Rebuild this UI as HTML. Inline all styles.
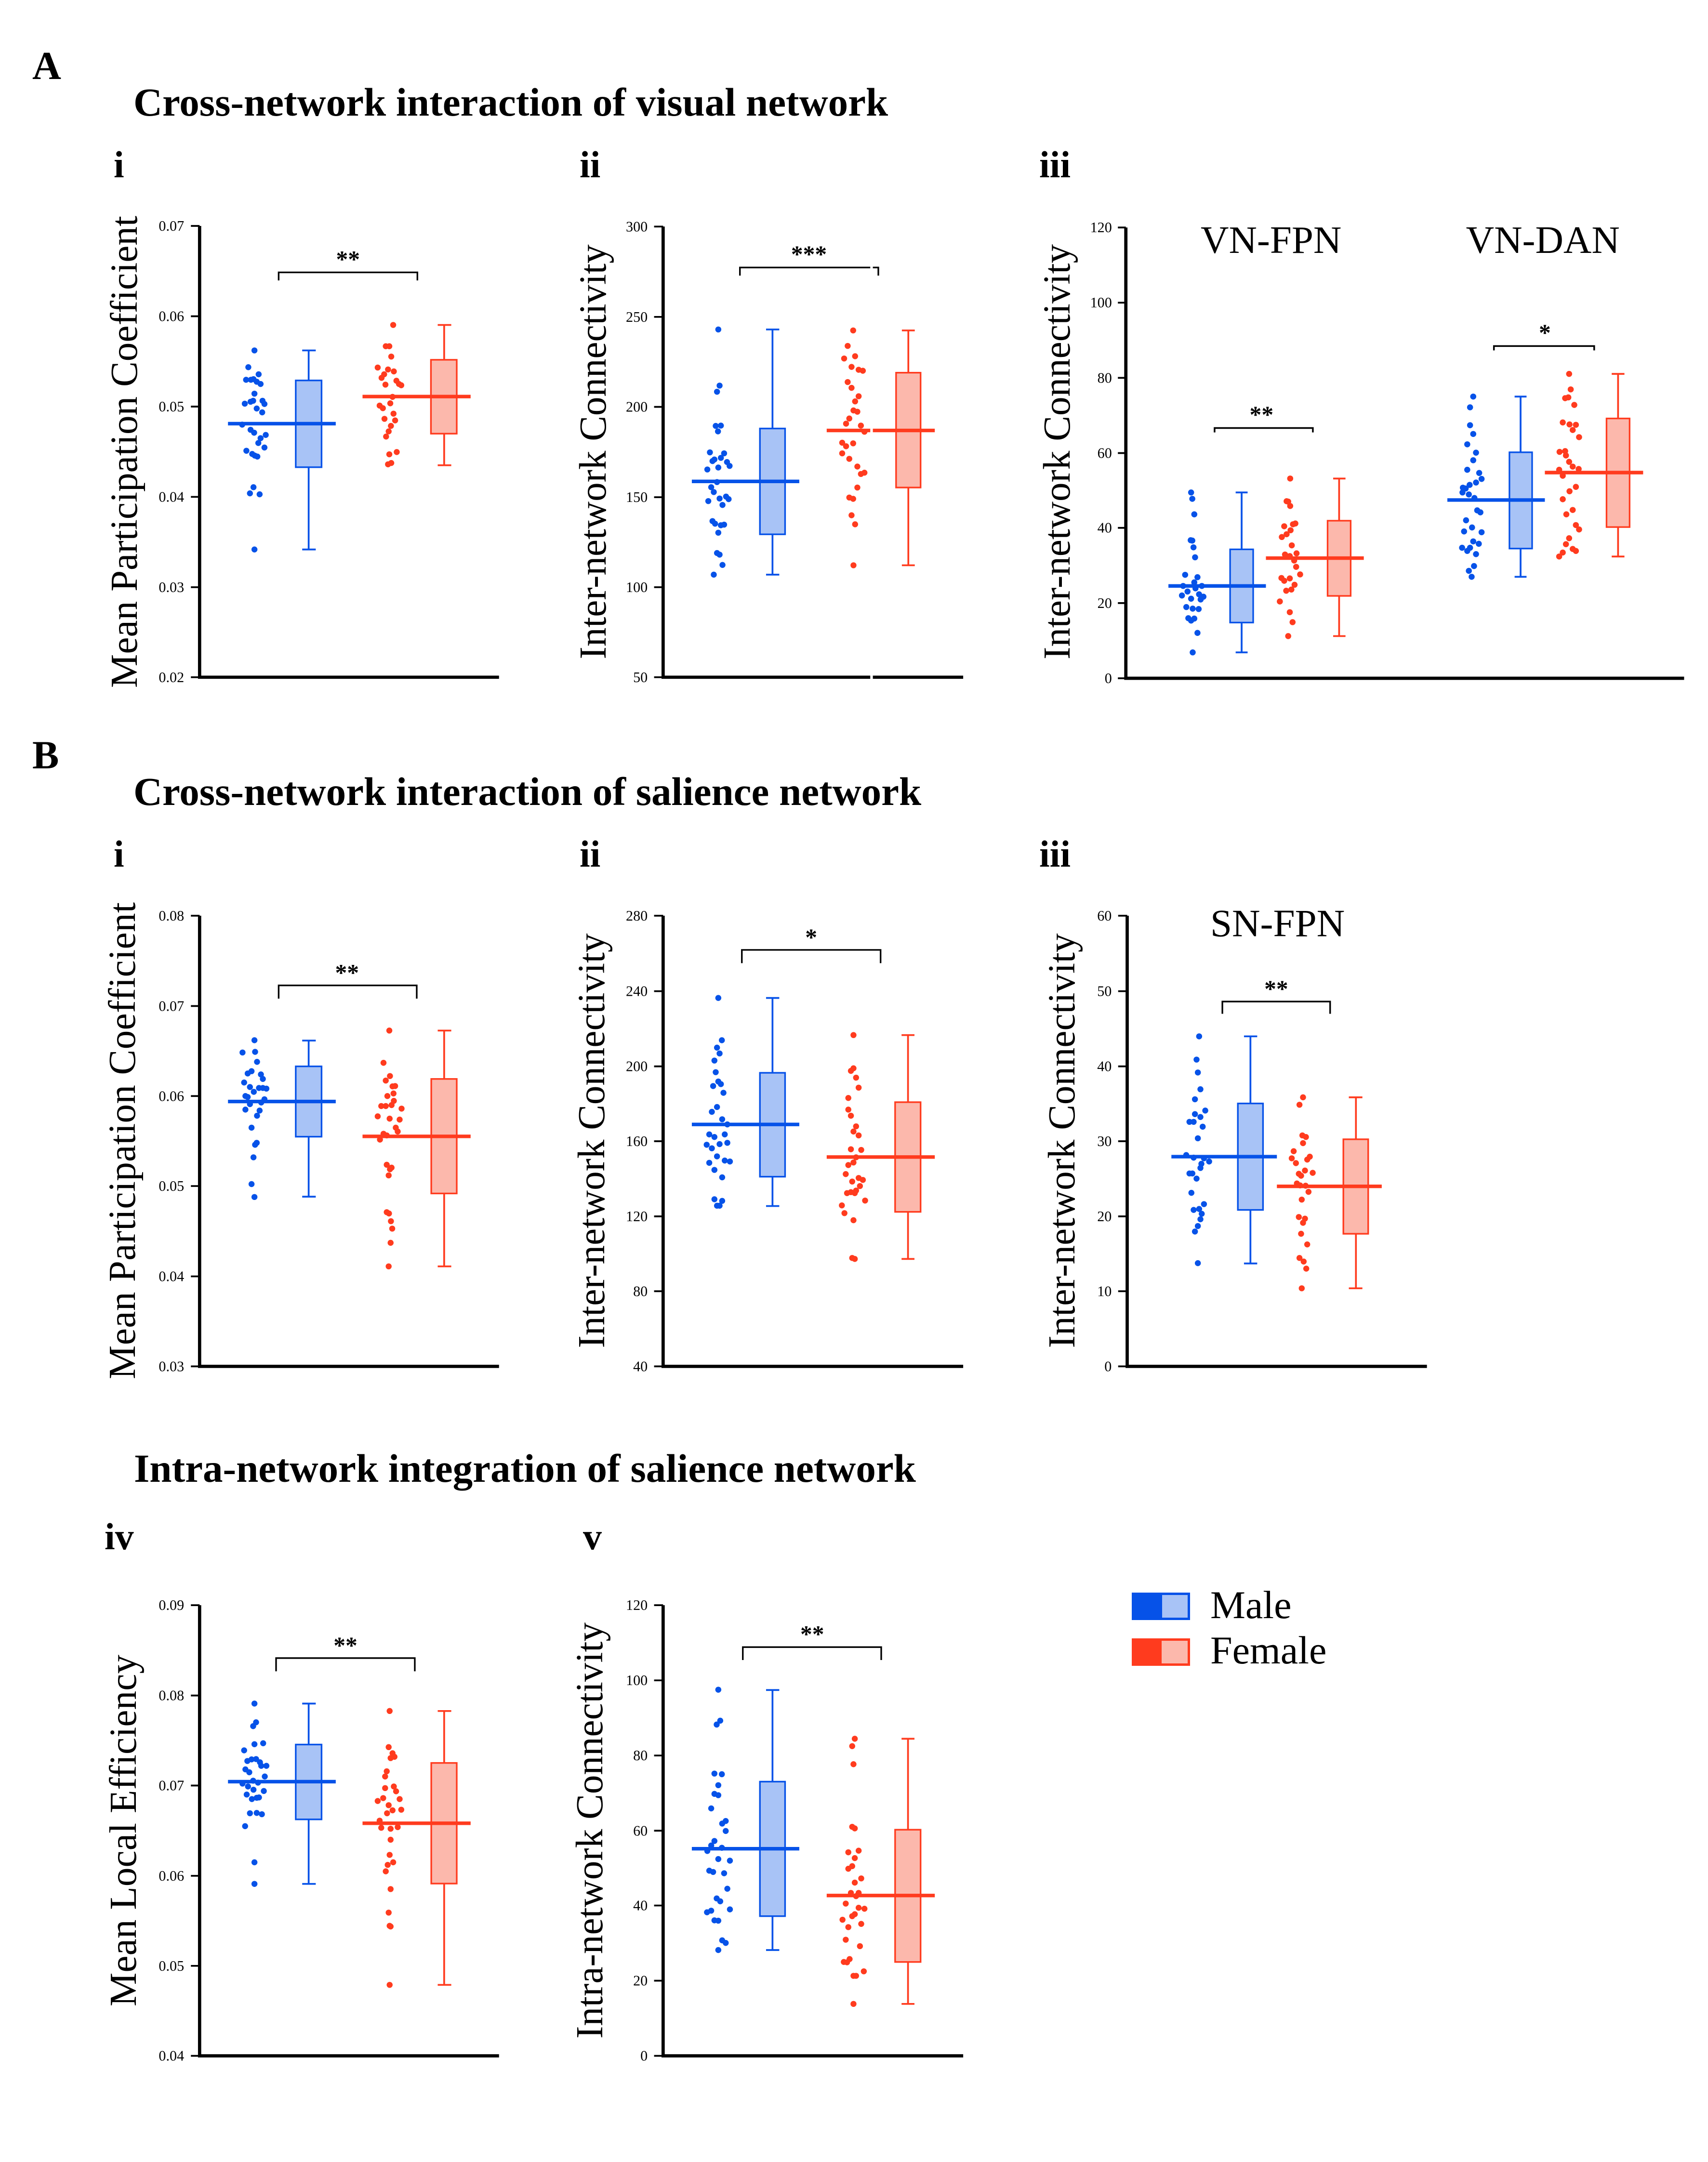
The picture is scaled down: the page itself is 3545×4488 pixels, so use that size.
<!DOCTYPE html>
<html><head><meta charset="utf-8">
<style>
html,body{margin:0;padding:0;background:#fff;}
svg{display:block;}
text{font-family:"Liberation Serif","Times New Roman",serif;fill:#000;}
.ax{stroke:#000;stroke-width:10;fill:none;}
.tk{stroke:#000;stroke-width:5.5;}
.tl{font-size:45px;text-anchor:end;}
.br{stroke:#000;stroke-width:5;fill:none;}
.st{font-size:74px;font-weight:bold;text-anchor:middle;}
.bm{stroke:#0652e8;stroke-width:11;}
.rm{stroke:#ff3b1e;stroke-width:11;}
.bb{fill:#a8c3f6;stroke:#0652e8;stroke-width:5;}
.rb{fill:#fcb8ac;stroke:#ff3b1e;stroke-width:5;}
.bw{stroke:#0652e8;stroke-width:5.5;fill:none;}
.rw{stroke:#ff3b1e;stroke-width:5.5;fill:none;}
.bd{fill:#0652e8;}
.rd{fill:#ff3b1e;}
.bd circle,.rd circle{r:9.3px;}
.ax3{stroke:#000;stroke-width:8.2;fill:none;}
.tk3{stroke:#000;stroke-width:4.5;}
.tl3{font-size:36.5px;text-anchor:end;}
.br3{stroke:#000;stroke-width:4.2;fill:none;}
.bm3{stroke:#0652e8;stroke-width:9;}
.rm3{stroke:#ff3b1e;stroke-width:9;}
.bb3{fill:#a8c3f6;stroke:#0652e8;stroke-width:4;}
.rb3{fill:#fcb8ac;stroke:#ff3b1e;stroke-width:4;}
.bw3{stroke:#0652e8;stroke-width:4.5;fill:none;}
.rw3{stroke:#ff3b1e;stroke-width:4.5;fill:none;}
.g3 circle{r:7.6px;}
.hd{font-size:83px;font-weight:bold;}
.sub{font-size:78px;font-weight:bold;}
.yl{font-size:79px;text-anchor:middle;}
</style></head>
<body>
<svg width="3545" height="4488" viewBox="0 0 3545 4488" xmlns="http://www.w3.org/2000/svg">
<rect width="3545" height="4488" fill="#fff"/>

<!-- Headers -->
<text class="hd" x="67" y="164">A</text>
<text class="hd" x="277" y="240">Cross-network interaction of visual network</text>
<text class="sub" x="236" y="368">i</text>
<text class="sub" x="1203" y="368">ii</text>
<text class="sub" x="2157" y="368">iii</text>

<text class="hd" x="67" y="1595">B</text>
<text class="hd" x="277" y="1671">Cross-network interaction of salience network</text>
<text class="sub" x="236" y="1799">i</text>
<text class="sub" x="1203" y="1799">ii</text>
<text class="sub" x="2157" y="1799">iii</text>

<text class="hd" x="278" y="3076">Intra-network integration of salience network</text>
<text class="sub" x="217" y="3216">iv</text>
<text class="sub" x="1210" y="3216">v</text>

<!-- Y labels -->
<text class="yl" transform="translate(284,938) rotate(-90)" textLength="980" lengthAdjust="spacing">Mean Participation Coefficient</text>
<text class="yl" transform="translate(1257,938) rotate(-90)" textLength="861" lengthAdjust="spacing">Inter-network Connectivity</text>
<text class="yl" transform="translate(2220,938) rotate(-90)" textLength="862" lengthAdjust="spacing">Inter-network Connectivity</text>
<text class="yl" transform="translate(280,2368) rotate(-90)" textLength="990" lengthAdjust="spacing">Mean Participation Coefficient</text>
<text class="yl" transform="translate(1254,2368) rotate(-90)" textLength="861" lengthAdjust="spacing">Inter-network Connectivity</text>
<text class="yl" transform="translate(2230,2368) rotate(-90)" textLength="861" lengthAdjust="spacing">Inter-network Connectivity</text>
<text class="yl" transform="translate(282,3800) rotate(-90)" textLength="730" lengthAdjust="spacing">Mean Local Efficiency</text>
<text class="yl" transform="translate(1250,3800) rotate(-90)" textLength="864" lengthAdjust="spacing">Intra-network Connectivity</text>

<!-- ===== A-i ===== -->
<g transform="translate(200,400) scale(0.66964)">
<path class="ax" d="M320,103 V1502 H1248"/>
<path class="tk" d="M293,103H320 M293,383H320 M293,663H320 M293,943H320 M293,1223H320 M293,1502H320"/>
<text class="tl" x="272" y="118">0.07</text>
<text class="tl" x="272" y="398">0.06</text>
<text class="tl" x="272" y="678">0.05</text>
<text class="tl" x="272" y="958">0.04</text>
<text class="tl" x="272" y="1238">0.03</text>
<text class="tl" x="272" y="1517">0.02</text>
<path class="br" d="M565,272 V247 H995 V272"/>
<text class="st" x="780" y="231">**</text>
<g class="bd">
<circle cx="490" cy="489" r="9.3"/><circle cx="471" cy="541" r="9.3"/><circle cx="503" cy="563" r="9.3"/><circle cx="464" cy="580" r="9.3"/><circle cx="479" cy="580" r="9.3"/><circle cx="487" cy="578" r="9.3"/><circle cx="497" cy="586" r="9.3"/><circle cx="509" cy="593" r="9.3"/><circle cx="490" cy="623" r="9.3"/><circle cx="515" cy="645" r="9.3"/><circle cx="521" cy="655" r="9.3"/><circle cx="460" cy="654" r="9.3"/><circle cx="478" cy="648" r="9.3"/><circle cx="486" cy="645" r="9.3"/><circle cx="497" cy="669" r="9.3"/><circle cx="514" cy="681" r="9.3"/><circle cx="452" cy="719" r="9.3"/><circle cx="478" cy="735" r="9.3"/><circle cx="489" cy="744" r="9.3"/><circle cx="525" cy="751" r="9.3"/><circle cx="509" cy="761" r="9.3"/><circle cx="502" cy="776" r="9.3"/><circle cx="521" cy="790" r="9.3"/><circle cx="465" cy="800" r="9.3"/><circle cx="483" cy="810" r="9.3"/><circle cx="491" cy="815" r="9.3"/><circle cx="499" cy="818" r="9.3"/><circle cx="487" cy="913" r="9.3"/><circle cx="476" cy="932" r="9.3"/><circle cx="506" cy="935" r="9.3"/><circle cx="490" cy="1106" r="9.3"/>
</g>
<g class="rd">
<circle cx="920" cy="410" r="9.3"/><circle cx="897" cy="476" r="9.3"/><circle cx="908" cy="476" r="9.3"/><circle cx="914" cy="508" r="9.3"/><circle cx="872" cy="542" r="9.3"/><circle cx="904" cy="548" r="9.3"/><circle cx="884" cy="574" r="9.3"/><circle cx="892" cy="563" r="9.3"/><circle cx="922" cy="554" r="9.3"/><circle cx="896" cy="595" r="9.3"/><circle cx="930" cy="583" r="9.3"/><circle cx="938" cy="593" r="9.3"/><circle cx="945" cy="597" r="9.3"/><circle cx="918" cy="633" r="9.3"/><circle cx="878" cy="660" r="9.3"/><circle cx="888" cy="668" r="9.3"/><circle cx="911" cy="653" r="9.3"/><circle cx="921" cy="685" r="9.3"/><circle cx="893" cy="701" r="9.3"/><circle cx="926" cy="706" r="9.3"/><circle cx="913" cy="723" r="9.3"/><circle cx="906" cy="740" r="9.3"/><circle cx="898" cy="756" r="9.3"/><circle cx="908" cy="811" r="9.3"/><circle cx="931" cy="804" r="9.3"/><circle cx="904" cy="842" r="9.3"/><circle cx="914" cy="838" r="9.3"/>
</g>
<rect class="bb" x="618" y="582" width="80" height="269"/>
<path class="bw" d="M658,582V489 M638,489H680 M658,851V1106 M638,1106H680"/>
<path class="bm" d="M408,716H742"/>
<rect class="rb" x="1037" y="518" width="80" height="229"/>
<path class="rw" d="M1078,518V410 M1058,410H1100 M1078,747V845 M1058,845H1100"/>
<path class="rm" d="M825,632H1160"/>
</g>

<!-- ===== A-ii ===== -->
<g transform="translate(1150,400) scale(0.66964)">
<path class="ax" d="M338,105 V1502 H1268"/>
<path class="tk" d="M310,105H338 M310,385H338 M310,664H338 M310,944H338 M310,1223H338 M310,1502H338"/>
<text class="tl" x="290" y="120">300</text>
<text class="tl" x="290" y="400">250</text>
<text class="tl" x="290" y="679">200</text>
<text class="tl" x="290" y="959">150</text>
<text class="tl" x="290" y="1238">100</text>
<text class="tl" x="290" y="1517">50</text>
<path class="br" d="M576,257 V232 H1005 V257"/>
<text class="st" x="790" y="215">***</text>
<g class="bd">
<circle cx="509" cy="424" r="9.3"/><circle cx="513" cy="598" r="9.3"/><circle cx="505" cy="617" r="9.3"/><circle cx="517" cy="722" r="9.3"/><circle cx="501" cy="723" r="9.3"/><circle cx="508" cy="740" r="9.3"/><circle cx="483" cy="805" r="9.3"/><circle cx="527" cy="808" r="9.3"/><circle cx="497" cy="827" r="9.3"/><circle cx="517" cy="822" r="9.3"/><circle cx="491" cy="832" r="9.3"/><circle cx="536" cy="835" r="9.3"/><circle cx="544" cy="847" r="9.3"/><circle cx="475" cy="858" r="9.3"/><circle cx="509" cy="852" r="9.3"/><circle cx="505" cy="897" r="9.3"/><circle cx="487" cy="913" r="9.3"/><circle cx="495" cy="928" r="9.3"/><circle cx="513" cy="948" r="9.3"/><circle cx="533" cy="942" r="9.3"/><circle cx="541" cy="950" r="9.3"/><circle cx="478" cy="956" r="9.3"/><circle cx="522" cy="968" r="9.3"/><circle cx="491" cy="1018" r="9.3"/><circle cx="499" cy="1026" r="9.3"/><circle cx="517" cy="1031" r="9.3"/><circle cx="527" cy="1029" r="9.3"/><circle cx="509" cy="1054" r="9.3"/><circle cx="505" cy="1117" r="9.3"/><circle cx="513" cy="1122" r="9.3"/><circle cx="522" cy="1154" r="9.3"/><circle cx="495" cy="1184" r="9.3"/>
</g>
<g class="rd">
<circle cx="927" cy="427" r="9.3"/><circle cx="910" cy="475" r="9.3"/><circle cx="933" cy="507" r="9.3"/><circle cx="899" cy="514" r="9.3"/><circle cx="922" cy="540" r="9.3"/><circle cx="944" cy="549" r="9.3"/><circle cx="957" cy="552" r="9.3"/><circle cx="910" cy="587" r="9.3"/><circle cx="922" cy="605" r="9.3"/><circle cx="944" cy="631" r="9.3"/><circle cx="933" cy="647" r="9.3"/><circle cx="928" cy="675" r="9.3"/><circle cx="940" cy="679" r="9.3"/><circle cx="915" cy="700" r="9.3"/><circle cx="905" cy="716" r="9.3"/><circle cx="951" cy="722" r="9.3"/><circle cx="962" cy="741" r="9.3"/><circle cx="893" cy="775" r="9.3"/><circle cx="905" cy="786" r="9.3"/><circle cx="927" cy="777" r="9.3"/><circle cx="893" cy="808" r="9.3"/><circle cx="915" cy="825" r="9.3"/><circle cx="962" cy="868" r="9.3"/><circle cx="951" cy="872" r="9.3"/><circle cx="940" cy="849" r="9.3"/><circle cx="940" cy="914" r="9.3"/><circle cx="915" cy="945" r="9.3"/><circle cx="927" cy="949" r="9.3"/><circle cx="922" cy="1000" r="9.3"/><circle cx="933" cy="1028" r="9.3"/><circle cx="928" cy="1155" r="9.3"/>
</g>
<rect class="bb" x="638" y="731" width="78" height="328"/>
<path class="bw" d="M677,731V424 M657,424H698 M677,1059V1184 M657,1184H698"/>
<path class="bm" d="M427,895H760"/>
<rect class="rb" x="1060" y="558" width="76" height="356"/>
<path class="rw" d="M1098,558V427 M1078,427H1118 M1098,914V1155 M1078,1155H1118"/>
<path class="rm" d="M845,737H1180"/>
<rect x="980" y="220" width="8" height="1295" fill="#fff"/>
</g>

<!-- ===== A-iii ===== -->
<g transform="translate(2250,350) scale(0.82589)">
<path class="ax3" d="M105,148 V1281 H1508"/>
<path class="tk3" d="M85,148H105 M85,337H105 M85,526H105 M85,715H105 M85,903H105 M85,1092H105 M85,1281H105"/>
<text class="tl3" x="70" y="160">120</text>
<text class="tl3" x="70" y="349">100</text>
<text class="tl3" x="70" y="538">80</text>
<text class="tl3" x="70" y="727">60</text>
<text class="tl3" x="70" y="915">40</text>
<text class="tl3" x="70" y="1104">20</text>
<text class="tl3" x="70" y="1293">0</text>
<text x="470" y="212" font-size="98" text-anchor="middle">VN-FPN</text>
<text x="1153" y="212" font-size="98" text-anchor="middle">VN-DAN</text>
<path class="br3" d="M328,663 V652 H575 V663"/>
<text x="446" y="638" font-size="60" font-weight="bold" text-anchor="middle">**</text>
<path class="br3" d="M1030,457 V446 H1282 V457"/>
<text x="1158" y="432" font-size="60" font-weight="bold" text-anchor="middle">*</text>
<g class="bd g3">
<circle cx="269" cy="814" r="7.6"/><circle cx="272" cy="830" r="7.6"/><circle cx="277" cy="869" r="7.6"/><circle cx="268" cy="934" r="7.6"/><circle cx="272" cy="935" r="7.6"/><circle cx="275" cy="952" r="7.6"/><circle cx="279" cy="977" r="7.6"/><circle cx="254" cy="1021" r="7.6"/><circle cx="285" cy="1027" r="7.6"/><circle cx="277" cy="1040" r="7.6"/><circle cx="249" cy="1049" r="7.6"/><circle cx="296" cy="1049" r="7.6"/><circle cx="260" cy="1063" r="7.6"/><circle cx="280" cy="1055" r="7.6"/><circle cx="289" cy="1070" r="7.6"/><circle cx="246" cy="1073" r="7.6"/><circle cx="300" cy="1076" r="7.6"/><circle cx="269" cy="1081" r="7.6"/><circle cx="293" cy="1083" r="7.6"/><circle cx="257" cy="1102" r="7.6"/><circle cx="273" cy="1106" r="7.6"/><circle cx="288" cy="1107" r="7.6"/><circle cx="262" cy="1130" r="7.6"/><circle cx="277" cy="1131" r="7.6"/><circle cx="269" cy="1136" r="7.6"/><circle cx="285" cy="1167" r="7.6"/><circle cx="273" cy="1216" r="7.6"/>
<circle cx="978" cy="573" r="7.6"/><circle cx="970" cy="600" r="7.6"/><circle cx="970" cy="645" r="7.6"/><circle cx="978" cy="667" r="7.6"/><circle cx="963" cy="693" r="7.6"/><circle cx="985" cy="714" r="7.6"/><circle cx="978" cy="733" r="7.6"/><circle cx="963" cy="757" r="7.6"/><circle cx="993" cy="765" r="7.6"/><circle cx="999" cy="780" r="7.6"/><circle cx="985" cy="789" r="7.6"/><circle cx="969" cy="795" r="7.6"/><circle cx="952" cy="802" r="7.6"/><circle cx="959" cy="804" r="7.6"/><circle cx="951" cy="814" r="7.6"/><circle cx="967" cy="819" r="7.6"/><circle cx="981" cy="828" r="7.6"/><circle cx="988" cy="859" r="7.6"/><circle cx="996" cy="864" r="7.6"/><circle cx="960" cy="884" r="7.6"/><circle cx="975" cy="902" r="7.6"/><circle cx="955" cy="912" r="7.6"/><circle cx="999" cy="914" r="7.6"/><circle cx="978" cy="937" r="7.6"/><circle cx="992" cy="943" r="7.6"/><circle cx="950" cy="953" r="7.6"/><circle cx="970" cy="953" r="7.6"/><circle cx="963" cy="961" r="7.6"/><circle cx="985" cy="969" r="7.6"/><circle cx="980" cy="999" r="7.6"/><circle cx="967" cy="1011" r="7.6"/><circle cx="974" cy="1026" r="7.6"/>
</g>
<g class="rd g3">
<circle cx="518" cy="779" r="7.6"/><circle cx="509" cy="836" r="7.6"/><circle cx="513" cy="837" r="7.6"/><circle cx="518" cy="848" r="7.6"/><circle cx="531" cy="892" r="7.6"/><circle cx="525" cy="894" r="7.6"/><circle cx="503" cy="899" r="7.6"/><circle cx="519" cy="909" r="7.6"/><circle cx="509" cy="919" r="7.6"/><circle cx="497" cy="926" r="7.6"/><circle cx="522" cy="947" r="7.6"/><circle cx="534" cy="967" r="7.6"/><circle cx="505" cy="970" r="7.6"/><circle cx="517" cy="974" r="7.6"/><circle cx="528" cy="985" r="7.6"/><circle cx="533" cy="1001" r="7.6"/><circle cx="543" cy="1020" r="7.6"/><circle cx="496" cy="1029" r="7.6"/><circle cx="517" cy="1030" r="7.6"/><circle cx="503" cy="1036" r="7.6"/><circle cx="529" cy="1046" r="7.6"/><circle cx="508" cy="1061" r="7.6"/><circle cx="521" cy="1058" r="7.6"/><circle cx="492" cy="1088" r="7.6"/><circle cx="517" cy="1115" r="7.6"/><circle cx="524" cy="1140" r="7.6"/><circle cx="513" cy="1175" r="7.6"/>
<circle cx="1219" cy="516" r="7.6"/><circle cx="1223" cy="555" r="7.6"/><circle cx="1209" cy="577" r="7.6"/><circle cx="1217" cy="575" r="7.6"/><circle cx="1232" cy="594" r="7.6"/><circle cx="1203" cy="638" r="7.6"/><circle cx="1220" cy="643" r="7.6"/><circle cx="1236" cy="644" r="7.6"/><circle cx="1228" cy="657" r="7.6"/><circle cx="1244" cy="675" r="7.6"/><circle cx="1195" cy="712" r="7.6"/><circle cx="1209" cy="710" r="7.6"/><circle cx="1211" cy="721" r="7.6"/><circle cx="1219" cy="737" r="7.6"/><circle cx="1228" cy="749" r="7.6"/><circle cx="1243" cy="755" r="7.6"/><circle cx="1194" cy="757" r="7.6"/><circle cx="1203" cy="772" r="7.6"/><circle cx="1220" cy="811" r="7.6"/><circle cx="1236" cy="800" r="7.6"/><circle cx="1203" cy="831" r="7.6"/><circle cx="1228" cy="858" r="7.6"/><circle cx="1212" cy="869" r="7.6"/><circle cx="1236" cy="896" r="7.6"/><circle cx="1244" cy="907" r="7.6"/><circle cx="1219" cy="929" r="7.6"/><circle cx="1211" cy="944" r="7.6"/><circle cx="1228" cy="956" r="7.6"/><circle cx="1236" cy="961" r="7.6"/><circle cx="1203" cy="965" r="7.6"/><circle cx="1194" cy="975" r="7.6"/>
</g>
<rect class="bb3" x="367" y="957" width="58" height="184"/>
<path class="bw3" d="M396,957V814 M381,814H411 M396,1141V1216 M381,1216H411"/>
<path class="bm3" d="M212,1049H457"/>
<rect class="rb3" x="612" y="885" width="58" height="189"/>
<path class="rw3" d="M641,885V779 M626,779H657 M641,1074V1175 M626,1175H657"/>
<path class="rm3" d="M457,979H703"/>
<rect class="bb3" x="1069" y="713" width="57" height="242"/>
<path class="bw3" d="M1097,713V573 M1082,573H1112 M1097,955V1026 M1082,1026H1112"/>
<path class="bm3" d="M913,833H1158"/>
<rect class="rb3" x="1313" y="628" width="58" height="273"/>
<path class="rw3" d="M1342,628V516 M1326,516H1358 M1342,901V975 M1326,975H1358"/>
<path class="rm3" d="M1158,764H1405"/>
</g>

<!-- ===== B-i ===== -->
<g transform="translate(200,1850) scale(0.66964)">
<path class="ax" d="M320,76 V1473 H1248"/>
<path class="tk" d="M293,76H320 M293,356H320 M293,635H320 M293,914H320 M293,1194H320 M293,1473H320"/>
<text class="tl" x="272" y="91">0.08</text>
<text class="tl" x="272" y="371">0.07</text>
<text class="tl" x="272" y="650">0.06</text>
<text class="tl" x="272" y="929">0.05</text>
<text class="tl" x="272" y="1209">0.04</text>
<text class="tl" x="272" y="1488">0.03</text>
<path class="br" d="M565,333 V292 H993 V333"/>
<text class="st" x="777" y="277">**</text>
<g class="bd">
<circle cx="490" cy="462" r="9.3"/><circle cx="453" cy="500" r="9.3"/><circle cx="492" cy="498" r="9.3"/><circle cx="498" cy="529" r="9.3"/><circle cx="469" cy="565" r="9.3"/><circle cx="481" cy="558" r="9.3"/><circle cx="510" cy="568" r="9.3"/><circle cx="516" cy="582" r="9.3"/><circle cx="458" cy="593" r="9.3"/><circle cx="476" cy="607" r="9.3"/><circle cx="504" cy="610" r="9.3"/><circle cx="488" cy="622" r="9.3"/><circle cx="516" cy="610" r="9.3"/><circle cx="527" cy="612" r="9.3"/><circle cx="462" cy="635" r="9.3"/><circle cx="469" cy="638" r="9.3"/><circle cx="521" cy="645" r="9.3"/><circle cx="511" cy="655" r="9.3"/><circle cx="476" cy="660" r="9.3"/><circle cx="462" cy="677" r="9.3"/><circle cx="506" cy="680" r="9.3"/><circle cx="498" cy="696" r="9.3"/><circle cx="481" cy="733" r="9.3"/><circle cx="497" cy="780" r="9.3"/><circle cx="492" cy="786" r="9.3"/><circle cx="487" cy="825" r="9.3"/><circle cx="481" cy="908" r="9.3"/><circle cx="490" cy="948" r="9.3"/>
</g>
<g class="rd">
<circle cx="908" cy="432" r="9.3"/><circle cx="890" cy="532" r="9.3"/><circle cx="910" cy="573" r="9.3"/><circle cx="897" cy="587" r="9.3"/><circle cx="918" cy="605" r="9.3"/><circle cx="926" cy="604" r="9.3"/><circle cx="902" cy="635" r="9.3"/><circle cx="921" cy="627" r="9.3"/><circle cx="883" cy="666" r="9.3"/><circle cx="897" cy="666" r="9.3"/><circle cx="915" cy="663" r="9.3"/><circle cx="922" cy="650" r="9.3"/><circle cx="946" cy="674" r="9.3"/><circle cx="872" cy="698" r="9.3"/><circle cx="909" cy="705" r="9.3"/><circle cx="940" cy="708" r="9.3"/><circle cx="928" cy="733" r="9.3"/><circle cx="934" cy="745" r="9.3"/><circle cx="890" cy="752" r="9.3"/><circle cx="879" cy="770" r="9.3"/><circle cx="900" cy="757" r="9.3"/><circle cx="900" cy="848" r="9.3"/><circle cx="915" cy="857" r="9.3"/><circle cx="910" cy="862" r="9.3"/><circle cx="906" cy="881" r="9.3"/><circle cx="900" cy="995" r="9.3"/><circle cx="907" cy="999" r="9.3"/><circle cx="913" cy="1023" r="9.3"/><circle cx="917" cy="1046" r="9.3"/><circle cx="912" cy="1090" r="9.3"/><circle cx="906" cy="1163" r="9.3"/>
</g>
<rect class="bb" x="618" y="543" width="80" height="218"/>
<path class="bw" d="M658,543V463 M638,463H680 M658,761V947 M638,947H680"/>
<path class="bm" d="M408,652H742"/>
<rect class="rb" x="1038" y="582" width="79" height="355"/>
<path class="rw" d="M1078,582V432 M1058,432H1100 M1078,937V1163 M1058,1163H1100"/>
<path class="rm" d="M825,760H1160"/>
</g>

<!-- ===== B-ii ===== -->
<g transform="translate(1150,1850) scale(0.66964)">
<path class="ax" d="M338,76 V1473 H1268"/>
<path class="tk" d="M310,76H338 M310,310H338 M310,543H338 M310,775H338 M310,1008H338 M310,1240H338 M310,1473H338"/>
<text class="tl" x="290" y="91">280</text>
<text class="tl" x="290" y="325">240</text>
<text class="tl" x="290" y="558">200</text>
<text class="tl" x="290" y="790">160</text>
<text class="tl" x="290" y="1023">120</text>
<text class="tl" x="290" y="1255">80</text>
<text class="tl" x="290" y="1488">40</text>
<path class="br" d="M582,223 V182 H1012 V223"/>
<text class="st" x="797" y="167">*</text>
<g class="bd">
<circle cx="509" cy="331" r="9.3"/><circle cx="520" cy="462" r="9.3"/><circle cx="505" cy="485" r="9.3"/><circle cx="513" cy="503" r="9.3"/><circle cx="497" cy="525" r="9.3"/><circle cx="501" cy="561" r="9.3"/><circle cx="509" cy="590" r="9.3"/><circle cx="493" cy="604" r="9.3"/><circle cx="517" cy="598" r="9.3"/><circle cx="525" cy="625" r="9.3"/><circle cx="505" cy="669" r="9.3"/><circle cx="489" cy="684" r="9.3"/><circle cx="521" cy="707" r="9.3"/><circle cx="537" cy="723" r="9.3"/><circle cx="481" cy="754" r="9.3"/><circle cx="497" cy="762" r="9.3"/><circle cx="529" cy="754" r="9.3"/><circle cx="473" cy="786" r="9.3"/><circle cx="513" cy="784" r="9.3"/><circle cx="537" cy="780" r="9.3"/><circle cx="489" cy="797" r="9.3"/><circle cx="505" cy="822" r="9.3"/><circle cx="529" cy="835" r="9.3"/><circle cx="545" cy="838" r="9.3"/><circle cx="481" cy="842" r="9.3"/><circle cx="497" cy="864" r="9.3"/><circle cx="521" cy="887" r="9.3"/><circle cx="497" cy="955" r="9.3"/><circle cx="521" cy="960" r="9.3"/><circle cx="505" cy="975" r="9.3"/><circle cx="513" cy="975" r="9.3"/>
</g>
<g class="rd">
<circle cx="928" cy="446" r="9.3"/><circle cx="928" cy="549" r="9.3"/><circle cx="920" cy="557" r="9.3"/><circle cx="936" cy="578" r="9.3"/><circle cx="944" cy="609" r="9.3"/><circle cx="912" cy="641" r="9.3"/><circle cx="912" cy="677" r="9.3"/><circle cx="920" cy="696" r="9.3"/><circle cx="936" cy="729" r="9.3"/><circle cx="928" cy="745" r="9.3"/><circle cx="944" cy="757" r="9.3"/><circle cx="920" cy="800" r="9.3"/><circle cx="952" cy="802" r="9.3"/><circle cx="936" cy="825" r="9.3"/><circle cx="912" cy="849" r="9.3"/><circle cx="928" cy="841" r="9.3"/><circle cx="904" cy="877" r="9.3"/><circle cx="944" cy="889" r="9.3"/><circle cx="957" cy="895" r="9.3"/><circle cx="924" cy="900" r="9.3"/><circle cx="948" cy="914" r="9.3"/><circle cx="908" cy="936" r="9.3"/><circle cx="920" cy="933" r="9.3"/><circle cx="936" cy="928" r="9.3"/><circle cx="932" cy="936" r="9.3"/><circle cx="964" cy="959" r="9.3"/><circle cx="892" cy="974" r="9.3"/><circle cx="900" cy="998" r="9.3"/><circle cx="928" cy="1020" r="9.3"/><circle cx="924" cy="1137" r="9.3"/><circle cx="932" cy="1140" r="9.3"/>
</g>
<rect class="bb" x="638" y="563" width="78" height="322"/>
<path class="bw" d="M677,563V331 M657,331H698 M677,885V976 M657,976H698"/>
<path class="bm" d="M427,723H760"/>
<rect class="rb" x="1057" y="654" width="79" height="340"/>
<path class="rw" d="M1097,654V446 M1077,446H1117 M1097,994V1140 M1077,1140H1117"/>
<path class="rm" d="M845,824H1180"/>
</g>

<!-- ===== B-iii ===== -->
<g transform="translate(2150,1850) scale(0.66964)">
<path class="ax" d="M283,76 V1473 H1212"/>
<path class="tk" d="M255,76H283 M255,310H283 M255,543H283 M255,775H283 M255,1008H283 M255,1240H283 M255,1473H283"/>
<text class="tl" x="235" y="91">60</text>
<text class="tl" x="235" y="325">50</text>
<text class="tl" x="235" y="558">40</text>
<text class="tl" x="235" y="790">30</text>
<text class="tl" x="235" y="1023">20</text>
<text class="tl" x="235" y="1255">10</text>
<text class="tl" x="235" y="1488">0</text>
<text x="749" y="140" font-size="121" text-anchor="middle">SN-FPN</text>
<path class="br" d="M578,380 V342 H912 V380"/>
<text class="st" x="745" y="327">**</text>
<g class="bd">
<circle cx="506" cy="450" r="9.3"/><circle cx="498" cy="522" r="9.3"/><circle cx="502" cy="562" r="9.3"/><circle cx="510" cy="614" r="9.3"/><circle cx="493" cy="645" r="9.3"/><circle cx="525" cy="680" r="9.3"/><circle cx="493" cy="691" r="9.3"/><circle cx="510" cy="700" r="9.3"/><circle cx="476" cy="715" r="9.3"/><circle cx="489" cy="715" r="9.3"/><circle cx="517" cy="730" r="9.3"/><circle cx="502" cy="766" r="9.3"/><circle cx="466" cy="818" r="9.3"/><circle cx="489" cy="826" r="9.3"/><circle cx="521" cy="828" r="9.3"/><circle cx="537" cy="838" r="9.3"/><circle cx="513" cy="845" r="9.3"/><circle cx="510" cy="858" r="9.3"/><circle cx="476" cy="875" r="9.3"/><circle cx="485" cy="875" r="9.3"/><circle cx="498" cy="891" r="9.3"/><circle cx="482" cy="935" r="9.3"/><circle cx="521" cy="970" r="9.3"/><circle cx="489" cy="988" r="9.3"/><circle cx="506" cy="985" r="9.3"/><circle cx="514" cy="1000" r="9.3"/><circle cx="510" cy="1017" r="9.3"/><circle cx="502" cy="1038" r="9.3"/><circle cx="493" cy="1055" r="9.3"/><circle cx="502" cy="1153" r="9.3"/>
</g>
<g class="rd">
<circle cx="828" cy="639" r="9.3"/><circle cx="817" cy="662" r="9.3"/><circle cx="826" cy="757" r="9.3"/><circle cx="837" cy="762" r="9.3"/><circle cx="828" cy="781" r="9.3"/><circle cx="799" cy="806" r="9.3"/><circle cx="793" cy="828" r="9.3"/><circle cx="806" cy="843" r="9.3"/><circle cx="849" cy="823" r="9.3"/><circle cx="841" cy="832" r="9.3"/><circle cx="834" cy="866" r="9.3"/><circle cx="858" cy="873" r="9.3"/><circle cx="815" cy="876" r="9.3"/><circle cx="822" cy="882" r="9.3"/><circle cx="809" cy="906" r="9.3"/><circle cx="836" cy="913" r="9.3"/><circle cx="819" cy="912" r="9.3"/><circle cx="845" cy="932" r="9.3"/><circle cx="824" cy="956" r="9.3"/><circle cx="815" cy="1010" r="9.3"/><circle cx="834" cy="1015" r="9.3"/><circle cx="828" cy="1028" r="9.3"/><circle cx="822" cy="1062" r="9.3"/><circle cx="841" cy="1095" r="9.3"/><circle cx="817" cy="1137" r="9.3"/><circle cx="830" cy="1148" r="9.3"/><circle cx="838" cy="1170" r="9.3"/><circle cx="824" cy="1231" r="9.3"/>
</g>
<rect class="bb" x="626" y="658" width="78" height="330"/>
<path class="bw" d="M665,658V450 M645,450H686 M665,988V1154 M645,1154H686"/>
<path class="bm" d="M420,823H747"/>
<rect class="rb" x="953" y="769" width="77" height="293"/>
<path class="rw" d="M992,769V639 M970,639H1012 M992,1062V1231 M970,1231H1012"/>
<path class="rm" d="M747,915H1072"/>
</g>

<!-- ===== B-iv ===== -->
<g transform="translate(200,3300) scale(0.66964)">
<path class="ax" d="M320,48 V1445 H1248"/>
<path class="tk" d="M293,48H320 M293,328H320 M293,607H320 M293,887H320 M293,1166H320 M293,1445H320"/>
<text class="tl" x="272" y="63">0.09</text>
<text class="tl" x="272" y="343">0.08</text>
<text class="tl" x="272" y="622">0.07</text>
<text class="tl" x="272" y="902">0.06</text>
<text class="tl" x="272" y="1181">0.05</text>
<text class="tl" x="272" y="1460">0.04</text>
<path class="br" d="M557,253 V212 H987 V253"/>
<text class="st" x="772" y="197">**</text>
<g class="bd">
<circle cx="490" cy="353" r="9.3"/><circle cx="495" cy="411" r="9.3"/><circle cx="486" cy="423" r="9.3"/><circle cx="490" cy="479" r="9.3"/><circle cx="517" cy="476" r="9.3"/><circle cx="458" cy="498" r="9.3"/><circle cx="468" cy="531" r="9.3"/><circle cx="481" cy="526" r="9.3"/><circle cx="495" cy="525" r="9.3"/><circle cx="507" cy="535" r="9.3"/><circle cx="511" cy="546" r="9.3"/><circle cx="527" cy="546" r="9.3"/><circle cx="462" cy="557" r="9.3"/><circle cx="474" cy="566" r="9.3"/><circle cx="522" cy="579" r="9.3"/><circle cx="486" cy="592" r="9.3"/><circle cx="453" cy="601" r="9.3"/><circle cx="470" cy="610" r="9.3"/><circle cx="501" cy="598" r="9.3"/><circle cx="487" cy="620" r="9.3"/><circle cx="466" cy="635" r="9.3"/><circle cx="519" cy="624" r="9.3"/><circle cx="482" cy="649" r="9.3"/><circle cx="497" cy="645" r="9.3"/><circle cx="504" cy="644" r="9.3"/><circle cx="476" cy="693" r="9.3"/><circle cx="497" cy="692" r="9.3"/><circle cx="513" cy="696" r="9.3"/><circle cx="461" cy="733" r="9.3"/><circle cx="490" cy="845" r="9.3"/><circle cx="490" cy="912" r="9.3"/>
</g>
<g class="rd">
<circle cx="909" cy="376" r="9.3"/><circle cx="906" cy="488" r="9.3"/><circle cx="918" cy="507" r="9.3"/><circle cx="924" cy="518" r="9.3"/><circle cx="912" cy="522" r="9.3"/><circle cx="900" cy="563" r="9.3"/><circle cx="895" cy="579" r="9.3"/><circle cx="895" cy="615" r="9.3"/><circle cx="922" cy="610" r="9.3"/><circle cx="929" cy="625" r="9.3"/><circle cx="889" cy="646" r="9.3"/><circle cx="872" cy="655" r="9.3"/><circle cx="906" cy="668" r="9.3"/><circle cx="940" cy="649" r="9.3"/><circle cx="918" cy="684" r="9.3"/><circle cx="945" cy="682" r="9.3"/><circle cx="901" cy="693" r="9.3"/><circle cx="878" cy="716" r="9.3"/><circle cx="883" cy="738" r="9.3"/><circle cx="912" cy="741" r="9.3"/><circle cx="934" cy="736" r="9.3"/><circle cx="912" cy="775" r="9.3"/><circle cx="909" cy="822" r="9.3"/><circle cx="920" cy="845" r="9.3"/><circle cx="903" cy="853" r="9.3"/><circle cx="897" cy="873" r="9.3"/><circle cx="912" cy="928" r="9.3"/><circle cx="906" cy="1001" r="9.3"/><circle cx="909" cy="1042" r="9.3"/><circle cx="912" cy="1044" r="9.3"/><circle cx="909" cy="1225" r="9.3"/>
</g>
<rect class="bb" x="618" y="480" width="80" height="232"/>
<path class="bw" d="M658,480V353 M638,353H680 M658,712V912 M638,912H680"/>
<path class="bm" d="M408,595H742"/>
<rect class="rb" x="1038" y="537" width="79" height="374"/>
<path class="rw" d="M1078,537V376 M1058,376H1100 M1078,911V1225 M1058,1225H1100"/>
<path class="rm" d="M825,724H1160"/>
</g>

<!-- ===== B-v ===== -->
<g transform="translate(1150,3300) scale(0.66964)">
<path class="ax" d="M338,48 V1445 H1268"/>
<path class="tk" d="M310,48H338 M310,281H338 M310,514H338 M310,747H338 M310,979H338 M310,1212H338 M310,1445H338"/>
<text class="tl" x="290" y="63">120</text>
<text class="tl" x="290" y="296">100</text>
<text class="tl" x="290" y="529">80</text>
<text class="tl" x="290" y="762">60</text>
<text class="tl" x="290" y="994">40</text>
<text class="tl" x="290" y="1227">20</text>
<text class="tl" x="290" y="1460">0</text>
<path class="br" d="M585,218 V178 H1014 V218"/>
<text class="st" x="800" y="162">**</text>
<g class="bd">
<circle cx="509" cy="310" r="9.3"/><circle cx="515" cy="406" r="9.3"/><circle cx="504" cy="418" r="9.3"/><circle cx="497" cy="570" r="9.3"/><circle cx="520" cy="572" r="9.3"/><circle cx="509" cy="606" r="9.3"/><circle cx="497" cy="633" r="9.3"/><circle cx="509" cy="637" r="9.3"/><circle cx="487" cy="678" r="9.3"/><circle cx="532" cy="717" r="9.3"/><circle cx="521" cy="725" r="9.3"/><circle cx="532" cy="748" r="9.3"/><circle cx="497" cy="779" r="9.3"/><circle cx="487" cy="793" r="9.3"/><circle cx="475" cy="810" r="9.3"/><circle cx="520" cy="800" r="9.3"/><circle cx="509" cy="835" r="9.3"/><circle cx="545" cy="840" r="9.3"/><circle cx="481" cy="871" r="9.3"/><circle cx="493" cy="875" r="9.3"/><circle cx="527" cy="879" r="9.3"/><circle cx="537" cy="927" r="9.3"/><circle cx="504" cy="957" r="9.3"/><circle cx="515" cy="966" r="9.3"/><circle cx="545" cy="991" r="9.3"/><circle cx="474" cy="1000" r="9.3"/><circle cx="487" cy="995" r="9.3"/><circle cx="497" cy="1025" r="9.3"/><circle cx="509" cy="1026" r="9.3"/><circle cx="521" cy="1087" r="9.3"/><circle cx="532" cy="1095" r="9.3"/><circle cx="509" cy="1117" r="9.3"/>
</g>
<g class="rd">
<circle cx="932" cy="462" r="9.3"/><circle cx="924" cy="485" r="9.3"/><circle cx="928" cy="541" r="9.3"/><circle cx="924" cy="735" r="9.3"/><circle cx="932" cy="740" r="9.3"/><circle cx="912" cy="814" r="9.3"/><circle cx="944" cy="809" r="9.3"/><circle cx="932" cy="832" r="9.3"/><circle cx="912" cy="865" r="9.3"/><circle cx="924" cy="857" r="9.3"/><circle cx="952" cy="895" r="9.3"/><circle cx="932" cy="908" r="9.3"/><circle cx="920" cy="940" r="9.3"/><circle cx="944" cy="940" r="9.3"/><circle cx="936" cy="950" r="9.3"/><circle cx="904" cy="973" r="9.3"/><circle cx="944" cy="986" r="9.3"/><circle cx="962" cy="989" r="9.3"/><circle cx="932" cy="1006" r="9.3"/><circle cx="924" cy="1012" r="9.3"/><circle cx="894" cy="1023" r="9.3"/><circle cx="952" cy="1036" r="9.3"/><circle cx="912" cy="1046" r="9.3"/><circle cx="904" cy="1085" r="9.3"/><circle cx="948" cy="1105" r="9.3"/><circle cx="916" cy="1145" r="9.3"/><circle cx="898" cy="1154" r="9.3"/><circle cx="908" cy="1155" r="9.3"/><circle cx="960" cy="1183" r="9.3"/><circle cx="928" cy="1197" r="9.3"/><circle cx="936" cy="1197" r="9.3"/><circle cx="928" cy="1284" r="9.3"/>
</g>
<rect class="bb" x="638" y="595" width="78" height="417"/>
<path class="bw" d="M677,595V311 M657,311H698 M677,1012V1117 M657,1117H698"/>
<path class="bm" d="M427,803H760"/>
<rect class="rb" x="1057" y="744" width="79" height="410"/>
<path class="rw" d="M1097,744V462 M1077,462H1117 M1097,1154V1284 M1077,1284H1117"/>
<path class="rm" d="M845,948H1180"/>
</g>

<!-- Legend -->
<rect x="2349" y="3306" width="121" height="57" fill="#0652e8"/>
<rect x="2412" y="3311" width="53" height="47" fill="#a8c3f6"/>
<rect x="2349" y="3401" width="121" height="57" fill="#ff3b1e"/>
<rect x="2411" y="3406" width="54" height="47" fill="#fcb8ac"/>
<text x="2512" y="3359" font-size="82">Male</text>
<text x="2512" y="3453" font-size="82">Female</text>
</svg>
</body></html>
